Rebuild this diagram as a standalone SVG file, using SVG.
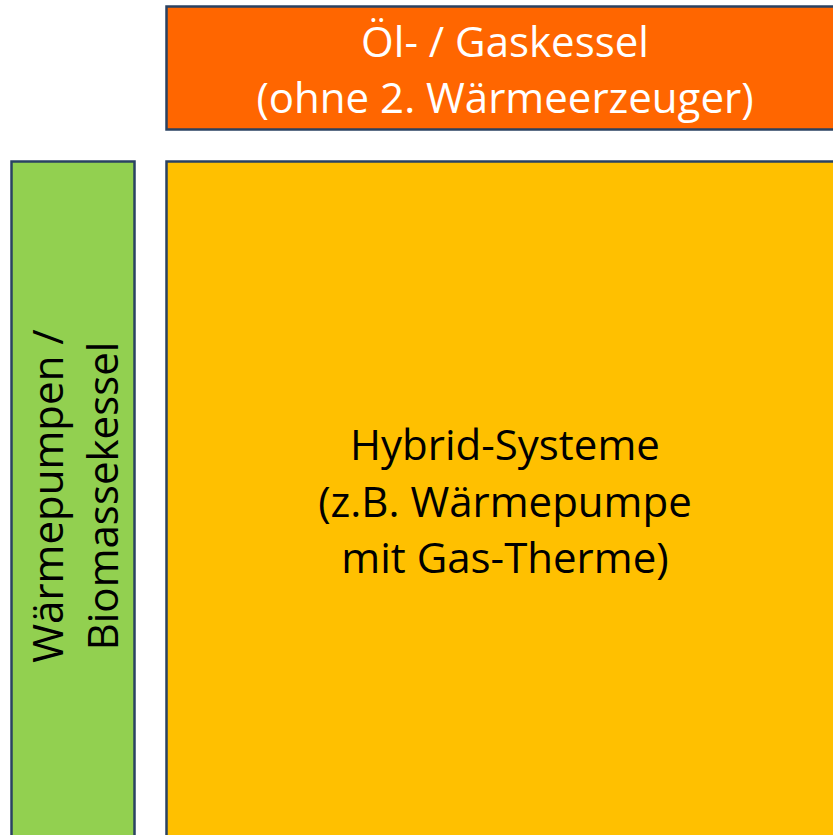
<svg xmlns="http://www.w3.org/2000/svg" width="833" height="835" viewBox="0 0 833 835">
<style>
.box{stroke:#2a4262;stroke-width:2.5}
.t{font-family:"Open Sans","Noto Sans","Liberation Sans",sans-serif;font-size:42px;text-anchor:middle}
</style>
<rect width="833" height="835" fill="#ffffff"/>
<g id="oel-gas">
<rect class="box" x="166.5" y="6.5" width="680" height="123" fill="#ff6600"/>
<text class="t" fill="#ffffff" x="505" y="57">Öl- / Gaskessel</text>
<text class="t" fill="#ffffff" x="505" y="113">(ohne 2. Wärmeerzeuger)</text>
</g>
<g id="waermepumpen">
<rect class="box" x="11.5" y="161.5" width="123" height="690" fill="#92d050"/>
<g transform="translate(72,496) rotate(-90)">
<text class="t" fill="#000000" x="0" y="-9">Wärmepumpen /</text>
<text class="t" fill="#000000" x="0" y="46">Biomassekessel</text>
</g>
</g>
<g id="hybrid">
<rect class="box" x="166.5" y="161.5" width="680" height="690" fill="#ffc000"/>
<text class="t" fill="#000000" x="505" y="460">Hybrid-Systeme</text>
<text class="t" fill="#000000" x="505" y="517">(z.B. Wärmepumpe</text>
<text class="t" fill="#000000" x="505" y="573">mit Gas-Therme)</text>
</g>
<g id="connectors"/>
</svg>
